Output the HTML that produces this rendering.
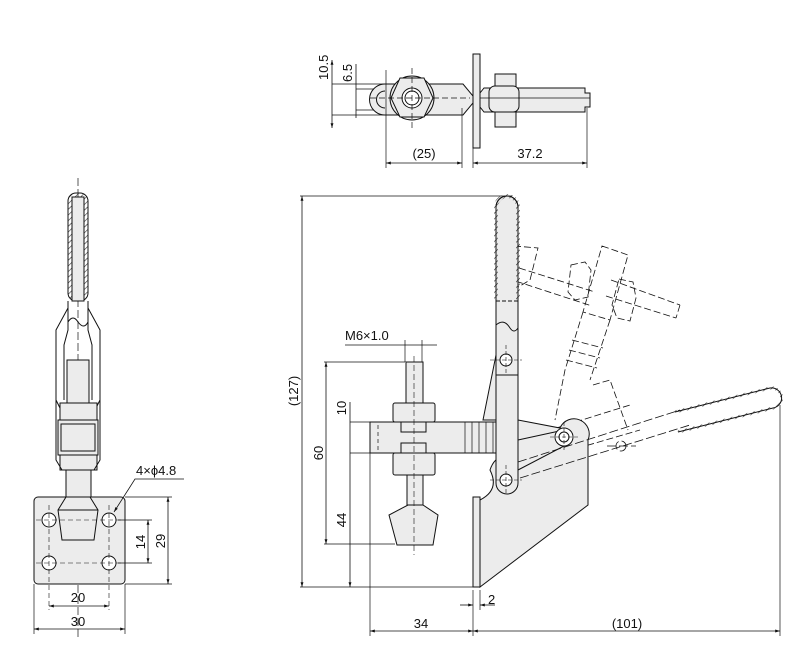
<!DOCTYPE html>
<html><head><meta charset="utf-8"><style>
html,body{margin:0;padding:0;background:#fff}
svg{display:block}
text{font-family:"Liberation Sans",Arial,sans-serif;font-size:13px;fill:#111}
</style></head><body>
<svg width="801" height="662" viewBox="0 0 801 662" xmlns="http://www.w3.org/2000/svg">
<defs>
<marker id="a" viewBox="0 0 10 10" refX="10" refY="5" markerWidth="8" markerHeight="6" orient="auto-start-reverse"><path d="M0,2 L10,5 L0,8z" fill="#111"/></marker>
<pattern id="h" width="4" height="4" patternUnits="userSpaceOnUse" patternTransform="rotate(45)"><line x1="0" y1="0" x2="0" y2="4" stroke="#333" stroke-width="1.2"/></pattern>
</defs>
<g stroke="#111" stroke-width="1" fill="none">
<!-- ===== TOP VIEW ===== -->
<line x1="332" y1="60" x2="332" y2="128" marker-start="url(#a)" marker-end="url(#a)" stroke-width="0.8"/>
<line x1="332" y1="84" x2="385" y2="84" stroke-width="0.7"/>
<line x1="332" y1="115" x2="385" y2="115" stroke-width="0.7"/>
<line x1="356" y1="64" x2="356" y2="118" stroke-width="0.8"/>
<line x1="356" y1="89" x2="395" y2="89" stroke-width="0.7"/>
<line x1="356" y1="110" x2="395" y2="110" stroke-width="0.7"/>
<path d="M385,84 L463,84 L473,96 L473,103 L463,115 L385,115 A15.5,15.5 0 0 1 385,84z" fill="#ececec"/>
<path d="M385,91 A6,6 0 0 0 385,108" />
<circle cx="412" cy="98" r="22" fill="#ececec"/>
<path d="M400,78 L424,78 L433,98 L424,117 L400,117 L391,98z" fill="#ececec"/>
<circle cx="412" cy="98" r="10" fill="#fff"/><circle cx="412" cy="98" r="7"/>
<line x1="370" y1="98" x2="470" y2="98" stroke-dasharray="6,3" stroke-width="0.7"/>
<line x1="412" y1="68" x2="412" y2="128" stroke-dasharray="6,3" stroke-width="0.7"/>
<line x1="386" y1="70" x2="386" y2="168" stroke-width="0.7"/>
<line x1="462" y1="108" x2="462" y2="168" stroke-width="0.7"/>
<rect x="473" y="54" width="7" height="94" fill="#ececec"/>
<rect x="495" y="74" width="21" height="53" fill="#ececec"/>
<path d="M480,93 L484,88 L585,88 L585,93 L590,93 L590,107 L585,107 L585,112 L484,112 L480,107z" fill="#ececec"/>
<rect x="489" y="86" width="30" height="26" rx="6" fill="#ececec"/>
<line x1="480" y1="98" x2="590" y2="98" stroke-width="0.7"/>
<line x1="473" y1="148" x2="473" y2="168" stroke-width="0.7"/>
<line x1="587" y1="108" x2="587" y2="168" stroke-width="0.7"/>
<line x1="386" y1="163" x2="462" y2="163" marker-start="url(#a)" marker-end="url(#a)" stroke-width="0.8"/>
<line x1="473" y1="163" x2="587" y2="163" marker-start="url(#a)" marker-end="url(#a)" stroke-width="0.8"/>

<!-- ===== LEFT VIEW ===== -->
<line x1="78" y1="178" x2="78" y2="640" stroke-dasharray="8,3" stroke-width="0.7"/>
<rect x="68" y="193" width="20" height="108" rx="8" fill="url(#h)"/>
<rect x="72" y="197" width="12" height="104" fill="#ececec"/>
<path d="M68,301 L68,330 L64,345 L64,400 M88,301 L88,330 L92,345 L92,400" />
<path d="M68,308 L56,330 L56,400 L60,408 M88,308 L100,330 L100,400 L96,408" />
<path d="M68,322 Q73,314 78,322 Q84,330 88,322" />
<rect x="67" y="360" width="22" height="43" fill="#ececec"/>
<rect x="60" y="403" width="37" height="17" fill="#ececec"/>
<rect x="58" y="420" width="40" height="35" fill="#ececec"/>
<rect x="61" y="424" width="34" height="27"/>
<rect x="60" y="455" width="37" height="15" fill="#ececec"/>
<path d="M56,400 L56,460 L62,470 M100,400 L100,460 L94,470"/>
<rect x="66" y="470" width="25" height="27" fill="#ececec"/>
<rect x="34" y="497" width="91" height="87" rx="4" fill="#ececec"/>
<path d="M66,497 L90,497 L98,510 L94,540 L62,540 L58,510z" fill="#ececec"/>
<line x1="58" y1="510" x2="98" y2="510"/>
<g fill="#fff"><circle cx="49" cy="520" r="7"/><circle cx="109" cy="520" r="7"/><circle cx="49" cy="563" r="7"/><circle cx="109" cy="563" r="7"/></g>
<g stroke-dasharray="5,3" stroke-width="0.6"><line x1="36" y1="520" x2="122" y2="520"/><line x1="36" y1="563" x2="122" y2="563"/><line x1="49" y1="505" x2="49" y2="610"/><line x1="109" y1="505" x2="109" y2="610"/></g>
<line x1="34" y1="584" x2="34" y2="634" stroke-width="0.7"/><line x1="125" y1="584" x2="125" y2="634" stroke-width="0.7"/>
<line x1="49" y1="606" x2="109" y2="606" marker-start="url(#a)" marker-end="url(#a)" stroke-width="0.8"/>
<line x1="34" y1="629" x2="125" y2="629" marker-start="url(#a)" marker-end="url(#a)" stroke-width="0.8"/>
<line x1="118" y1="520" x2="152" y2="520" stroke-width="0.7"/><line x1="118" y1="563" x2="152" y2="563" stroke-width="0.7"/>
<line x1="125" y1="497" x2="172" y2="497" stroke-width="0.7"/><line x1="125" y1="584" x2="172" y2="584" stroke-width="0.7"/>
<line x1="148" y1="520" x2="148" y2="563" marker-start="url(#a)" marker-end="url(#a)" stroke-width="0.8"/>
<line x1="168" y1="497" x2="168" y2="584" marker-start="url(#a)" marker-end="url(#a)" stroke-width="0.8"/>
<path d="M184,479 L135,479 L114,512" stroke-width="0.8" marker-end="url(#a)"/>

<!-- ===== SIDE VIEW ===== -->
<line x1="302" y1="196" x2="302" y2="587" marker-start="url(#a)" marker-end="url(#a)" stroke-width="0.8"/>
<line x1="300" y1="196" x2="512" y2="196" stroke-width="0.7"/>
<line x1="300" y1="587" x2="475" y2="587" stroke-width="0.7"/>
<line x1="326" y1="362" x2="326" y2="544" marker-start="url(#a)" marker-end="url(#a)" stroke-width="0.8"/>
<line x1="324" y1="362" x2="405" y2="362" stroke-width="0.7"/>
<line x1="324" y1="544" x2="395" y2="544" stroke-width="0.7"/>
<line x1="350" y1="402" x2="350" y2="587" stroke-width="0.8" marker-end="url(#a)"/>
<line x1="350" y1="422" x2="370" y2="422" stroke-width="0.7"/>
<line x1="350" y1="453" x2="370" y2="453" stroke-width="0.7"/>
<line x1="345" y1="345" x2="437" y2="345" stroke-width="0.7"/>
<line x1="405" y1="340" x2="405" y2="362" stroke-width="0.7"/><line x1="422" y1="340" x2="422" y2="362" stroke-width="0.7"/>
<!-- phantom -->
<g stroke-dasharray="7,3" stroke-width="0.8">
<path d="M514,246 L538,248 L530,280 L505,295"/>
<path d="M500,262 L595,292 M497,275 L592,306"/>
<path d="M571,265 L585,262 L591,270 L588,297 L575,300 L568,292z"/>
<path d="M602,246 L628,255 L610,320 L583,312z"/>
<path d="M611,280 L680,305 M606,296 L676,318 M680,305 L676,318"/>
<path d="M619,279 L633,282 L636,298 L630,321 L617,318 L612,305z"/>
<path d="M583,312 L565,370 L555,420 M610,320 L590,380"/>
<path d="M572,340 L603,348 M569,350 L600,358 M566,360 L597,368"/>
<path d="M593,385 L610,380 L628,430"/>
<path d="M520,465 L640,430 M518,440 L630,405"/>
</g>
<path d="M483,420 L496,355 L496,420z" fill="#ececec"/>
<path d="M518,420 L560,428 A14,14 0 0 1 588,440 L588,505 L480,587 L480,500 Q500,490 490,470 Q495,455 506,458 L518,455z" fill="#ececec"/>
<rect x="473" y="497" width="7" height="90" fill="#ececec"/>
<path d="M518,440 L564,430 L566,445 L518,470z" fill="#ececec"/>
<circle cx="564" cy="437" r="9" fill="#fff"/><circle cx="564" cy="437" r="5"/>
<path d="M370,422 L496,422 L496,453 L370,453z" fill="#ececec"/>
<g stroke-width="0.7"><line x1="465" y1="422" x2="465" y2="453"/><line x1="472" y1="422" x2="472" y2="453"/><line x1="479" y1="422" x2="479" y2="453"/><line x1="486" y1="422" x2="486" y2="453"/><line x1="493" y1="422" x2="493" y2="453"/></g>
<line x1="378" y1="425" x2="378" y2="452" stroke-dasharray="4,3" stroke-width="0.7"/>
<rect x="406" y="362" width="17" height="41" fill="#ececec"/>
<rect x="393" y="403" width="42" height="19" rx="2" fill="#ececec"/>
<rect x="393" y="453" width="42" height="22" rx="2" fill="#ececec"/>
<rect x="401" y="422" width="25" height="10" fill="#ececec"/><rect x="401" y="443" width="25" height="10" fill="#ececec"/>
<rect x="407" y="475" width="16" height="30" fill="#ececec"/>
<path d="M408,505 L423,505 L438,515 L433,545 L397,545 L389,515z" fill="#ececec"/>
<line x1="414" y1="356" x2="414" y2="555" stroke-dasharray="6,3" stroke-width="0.6"/>
<!-- lever -->
<rect x="496" y="196" width="22" height="298" rx="11" fill="#ececec"/>
<path d="M496,300 L496,207 A11,11 0 0 1 518,207 L518,300" stroke-width="4" stroke="url(#h)"/>
<path d="M496,300 L496,207 A11,11 0 0 1 518,207 L518,300"/>
<line x1="496" y1="301" x2="518" y2="301" stroke-dasharray="4,2"/>
<path d="M496,325 Q504,318 510,328 Q514,334 518,328" />
<line x1="496" y1="375" x2="518" y2="375"/>
<circle cx="506" cy="360" r="6" fill="#fff"/><circle cx="506" cy="480" r="6" fill="#fff"/>
<g stroke-dasharray="4,2" stroke-width="0.6"><line x1="490" y1="360" x2="522" y2="360"/><line x1="506" y1="345" x2="506" y2="375"/><line x1="490" y1="480" x2="522" y2="480"/><line x1="506" y1="465" x2="506" y2="495"/><line x1="550" y1="437" x2="580" y2="437"/><line x1="564" y1="422" x2="564" y2="452"/></g>
<!-- phantom handle -->
<g stroke-dasharray="9,3" stroke-width="0.8"><path d="M520,478 L690,425 M518,462 L680,410"/>
<circle cx="621" cy="446" r="5"/><line x1="607" y1="446" x2="636" y2="446"/></g>
<path d="M675,412 L770,388 A9,9 0 0 1 773,408 L678,432" stroke-width="3" stroke="url(#h)"/>
<path d="M675,412 L770,388 A9,9 0 0 1 773,408 L678,432"/>
<!-- bottom dims -->
<line x1="370" y1="453" x2="370" y2="636" stroke-width="0.7"/>
<line x1="780" y1="405" x2="780" y2="636" stroke-width="0.7"/>
<line x1="473" y1="590" x2="473" y2="636" stroke-width="0.7"/>
<line x1="480" y1="590" x2="480" y2="610" stroke-width="0.7"/>
<line x1="460" y1="605" x2="473" y2="605" marker-end="url(#a)" stroke-width="0.8"/>
<line x1="495" y1="605" x2="480" y2="605" marker-end="url(#a)" stroke-width="0.8"/>
<line x1="370" y1="631" x2="473" y2="631" marker-start="url(#a)" marker-end="url(#a)" stroke-width="0.8"/>
<line x1="473" y1="631" x2="780" y2="631" marker-start="url(#a)" marker-end="url(#a)" stroke-width="0.8"/>
</g>
<!-- text -->
<text transform="translate(328,80) rotate(-90)">10.5</text>
<text transform="translate(352,82) rotate(-90)">6.5</text>
<text x="424" y="158" text-anchor="middle">(25)</text>
<text x="530" y="158" text-anchor="middle">37.2</text>
<text x="136" y="475">4×ϕ4.8</text>
<text x="78" y="602" text-anchor="middle">20</text>
<text x="78" y="626" text-anchor="middle">30</text>
<text transform="translate(145,542) rotate(-90)" text-anchor="middle">14</text>
<text transform="translate(165,541) rotate(-90)" text-anchor="middle">29</text>
<text transform="translate(298,391) rotate(-90)" text-anchor="middle">(127)</text>
<text transform="translate(323,453) rotate(-90)" text-anchor="middle">60</text>
<text transform="translate(346,408) rotate(-90)" text-anchor="middle">10</text>
<text transform="translate(346,520) rotate(-90)" text-anchor="middle">44</text>
<text x="345" y="340">M6×1.0</text>
<text x="488" y="604">2</text>
<text x="421" y="628" text-anchor="middle">34</text>
<text x="627" y="628" text-anchor="middle">(101)</text>
</svg>
</body></html>
